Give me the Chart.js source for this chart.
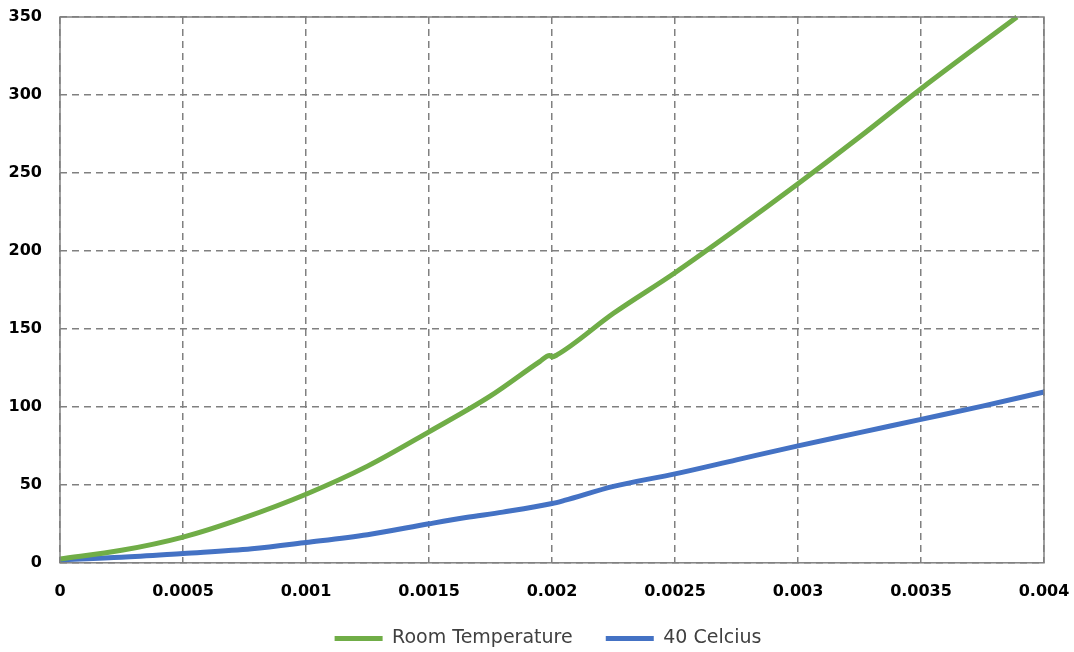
<!DOCTYPE html>
<html>
<head>
<meta charset="utf-8">
<script src="https://cdn.jsdelivr.net/npm/chart.js@4/dist/chart.umd.min.js"></script>
<style>
  html, body { margin: 0; padding: 0; background: #fff; }
  #wrap { width: 1074px; height: 652px; }
</style>
</head>
<body>
<div id="wrap"><canvas id="c"></canvas></div>
<script>
// Strain (x) vs. stress (y) for two test temperatures
const roomX = [0, 0.00025, 0.0005, 0.00075, 0.001, 0.00125, 0.0015, 0.00175, 0.00195, 0.00199, 0.002, 0.00202, 0.00225, 0.0025, 0.00275, 0.003, 0.00325, 0.0035, 0.00389];
const roomY = [2.5, 8, 16.5, 29, 44, 62, 84, 107, 129, 133, 132, 133.3, 160, 186, 214, 243, 273, 304, 350];

const warmX = [0, 0.00025, 0.0005, 0.00078, 0.001, 0.00125, 0.0015, 0.00165, 0.0018, 0.002, 0.00205, 0.00225, 0.0025, 0.00275, 0.003, 0.00325, 0.0035, 0.00375, 0.004];
const warmY = [2, 3.5, 6, 9, 13, 18, 25, 29, 32.5, 38, 40, 49, 57, 66, 75, 83.5, 92, 100.5, 109.5];

const xTickLabels = ['0', '0.0005', '0.001', '0.0015', '0.002', '0.0025', '0.003', '0.0035', '0.004'];
const yTickLabels = ['0', '50', '100', '150', '200', '250', '300', '350'];

const seriesNames = ['Room Temperature', '40 Celcius'];

const toPoints = (xs, ys) => xs.map((x, i) => ({ x: x, y: ys[i] }));

// Solid frame around the plot area (grid lines are dashed)
const frame = {
  id: 'frame',
  afterDraw(chart) {
    const a = chart.chartArea, ctx = chart.ctx;
    ctx.save();
    ctx.strokeStyle = '#808080';
    ctx.lineWidth = 1.5;
    ctx.setLineDash([]);
    ctx.strokeRect(a.left, a.top, a.right - a.left, a.bottom - a.top);
    ctx.restore();
  }
};

// Nudge the legend so it sits centred under the plot area
const legendShift = {
  id: 'legendShift',
  afterLayout(chart) {
    const lg = chart.legend;
    if (!lg) return;
    const dx = 26;
    lg.left += dx;
    lg.right += dx;
  }
};

// Wider gap between legend entries: pad all but the last label
const ITEM_GAP = '    ';

new Chart(document.getElementById('c'), {
  type: 'line',
  data: {
    datasets: [
      {
        label: seriesNames[0],
        data: toPoints(roomX, roomY),
        borderColor: '#70AD47',
        backgroundColor: '#70AD47',
        borderWidth: 5,
        pointRadius: 0,
        cubicInterpolationMode: 'monotone',
        clip: 4
      },
      {
        label: seriesNames[1],
        data: toPoints(warmX, warmY),
        borderColor: '#4472C4',
        backgroundColor: '#4472C4',
        borderWidth: 5,
        pointRadius: 0,
        cubicInterpolationMode: 'monotone',
        clip: 4
      }
    ]
  },
  options: {
    responsive: true,
    maintainAspectRatio: false,
    animation: false,
    layout: { padding: { top: 17, right: 30, left: 0, bottom: -6 } },
    plugins: {
      legend: {
        position: 'bottom',
        labels: {
          font: { family: 'DejaVu Sans', size: 19 },
          color: '#404040',
          boxWidth: 48,
          boxHeight: 5,
          padding: 9,
          generateLabels: (chart) => {
            const items = Chart.defaults.plugins.legend.labels.generateLabels(chart);
            return items.map((l, i) => Object.assign(l, {
              lineWidth: 0,
              text: i < items.length - 1 ? l.text + ITEM_GAP : l.text
            }));
          }
        }
      },
      tooltip: { enabled: false }
    },
    scales: {
      x: {
        type: 'linear',
        min: 0,
        max: 0.004,
        afterFit: (s) => { s.paddingLeft = 0; s.paddingRight = 0; },
        ticks: {
          stepSize: 0.0005,
          color: '#000',
          font: { family: 'DejaVu Sans', size: 16, weight: 'bold' },
          padding: 19,
          maxRotation: 0,
          callback: (v, i) => xTickLabels[i]
        },
        grid: { color: '#808080', lineWidth: 1.5, tickLength: 0 },
        border: { display: false, dash: [7, 5] }
      },
      y: {
        min: 0,
        max: 350,
        afterFit: (s) => { s.width = 60; s.paddingTop = 0; s.paddingBottom = 0; },
        ticks: {
          stepSize: 50,
          color: '#000',
          font: { family: 'DejaVu Sans', size: 16, weight: 'bold' },
          padding: 18,
          callback: (v, i) => yTickLabels[i]
        },
        grid: { color: '#808080', lineWidth: 1.5, tickLength: 0 },
        border: { display: false, dash: [7, 5] }
      }
    }
  },
  plugins: [frame, legendShift]
});
</script>
</body>
</html>
